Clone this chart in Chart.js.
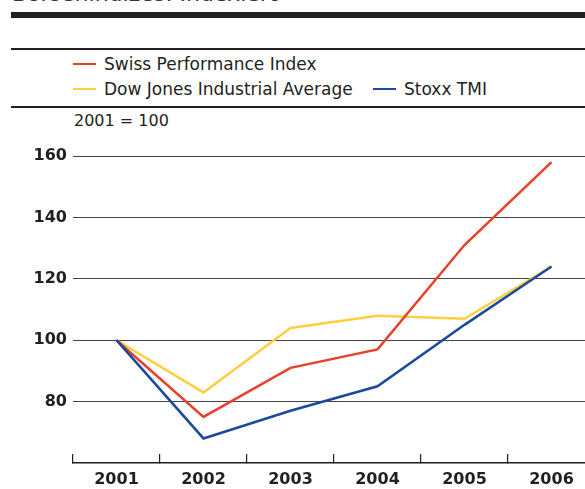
<!DOCTYPE html>
<html>
<head>
<meta charset="utf-8">
<script src="https://cdn.jsdelivr.net/npm/chart.js@4/dist/chart.umd.min.js"></script>
<style>
  html, body { margin:0; padding:0; background:#fff; width:585px; height:489px; overflow:hidden; }
  body { position:relative; font-family:"DejaVu Sans", sans-serif; color:#231f20; }
  .abs { position:absolute; }
  #title { left:12px; top:-19px; font-size:22px; line-height:26px; color:#333; white-space:nowrap; }
  .bar { left:11px; width:574px; background:#231f20; }
  .leg { position:absolute; display:flex; align-items:center; font-size:17px; white-space:nowrap; }
  .leg .sw { width:23px; height:2.5px; margin-right:8px; }
  #sub { left:74px; top:111px; font-size:16px; line-height:20px; }
  #wrap { position:absolute; left:0; top:0; width:600px; height:489px; }
</style>
</head>
<body>
<div id="title" class="abs">Börsenindizes: Indexiert</div>
<div class="abs bar" style="top:12px;height:6px;"></div>
<div class="abs bar" style="top:48px;height:1.5px;"></div>
<div id="legend"></div>
<div class="abs bar" style="top:106px;height:1.5px;"></div>
<div id="sub" class="abs">2001 = 100</div>
<div id="wrap"><canvas id="c"></canvas></div>
<script>
const categories = ['2001', '2002', '2003', '2004', '2005', '2006'];
const seriesNames = ['Swiss Performance Index', 'Dow Jones Industrial Average', 'Stoxx TMI'];
const spi   = [100, 75, 91, 97, 131, 158];
const djia  = [100, 83, 104, 108, 107, 124];
const stoxx = [100, 68, 77, 85, 105, 124];
const yTicks = [80, 100, 120, 140, 160];
const colors = ['#e8412c', '#ffcf40', '#1b4a9b'];

// HTML legend (two rows as in the reference)
const legendPos = [[73, 64], [73, 89], [373, 89]];
const legendEl = document.getElementById('legend');
seriesNames.forEach((name, i) => {
  const d = document.createElement('div');
  d.className = 'leg';
  d.style.left = legendPos[i][0] + 'px';
  d.style.top = (legendPos[i][1] - 11) + 'px';
  d.style.height = '22px';
  d.innerHTML = '<span class="sw" style="background:' + colors[i] + '"></span><span>' + name + '</span>';
  legendEl.appendChild(d);
});

const data = [spi, djia, stoxx];
const orders = [1, 2, 0];
new Chart(document.getElementById('c'), {
  type: 'line',
  data: {
    labels: categories,
    datasets: seriesNames.map((n, i) => ({
      label: n,
      data: data[i],
      borderColor: colors[i],
      backgroundColor: colors[i],
      borderWidth: 2.5,
      pointRadius: 0,
      tension: 0,
      fill: false,
      order: orders[i]
    }))
  },
  options: {
    responsive: true,
    maintainAspectRatio: false,
    animation: false,
    layout: { padding: { top: 156, right: 5, left: 0, bottom: 0 } },
    plugins: { legend: { display: false }, tooltip: { enabled: false } },
    scales: {
      x: {
        offset: true,
        grid: { offset: true, drawOnChartArea: false, drawTicks: true, tickLength: -9, color: '#231f20', lineWidth: 1.2 },
        border: { display: true, color: '#231f20', width: 1.5 },
        ticks: { padding: 16, color: '#231f20', font: { family: 'DejaVu Sans', size: 16, weight: 'bold' } },
        afterFit: s => { s.height = 26; }
      },
      y: {
        min: 60, max: 160,
        afterBuildTicks: s => { s.ticks = yTicks.map(v => ({ value: v })); },
        afterFit: s => { s.width = 73; },
        grid: { drawTicks: false, color: '#444', lineWidth: 1 },
        border: { display: false },
        ticks: { padding: 6, color: '#231f20', font: { family: 'DejaVu Sans', size: 16, weight: 'bold' } }
      }
    }
  }
});
</script>
</body>
</html>
